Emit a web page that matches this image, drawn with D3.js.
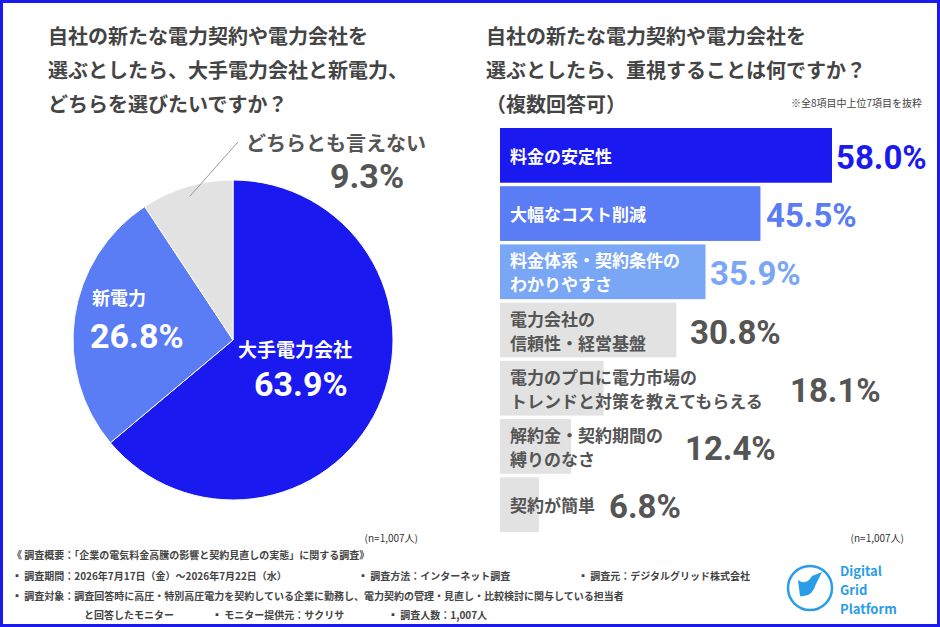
<!DOCTYPE html>
<html lang="ja">
<head>
<meta charset="UTF-8" />
<script src="https://cdn.jsdelivr.net/npm/d3@7"></script>
<style>
  body { margin: 0; background: #fff; }
  text { font-family: "Noto Sans CJK JP", "Noto Sans", sans-serif; }
  text.num { font-family: Roboto, "Liberation Sans", sans-serif; }
</style>
</head>
<body>
<script>
// pie data
const pieLabels = ['大手電力会社', '新電力', 'どちらとも言えない'];
const pieValues = [63.9, 26.8, 9.3];
const pieColors = ['#1a1af0', '#5a7cf4', '#e2e2e2'];

// bar data
const barLabels = [
  ['料金の安定性'],
  ['大幅なコスト削減'],
  ['料金体系・契約条件の', 'わかりやすさ'],
  ['電力会社の', '信頼性・経営基盤'],
  ['電力のプロに電力市場の', 'トレンドと対策を教えてもらえる'],
  ['解約金・契約期間の', '縛りのなさ'],
  ['契約が簡単']
];
const barValues = [58.0, 45.5, 35.9, 30.8, 18.1, 12.4, 6.8];
const barColors = ['#1a1af0', '#5a7cf4', '#7aa6f6', '#e2e2e2', '#e2e2e2', '#e2e2e2', '#e2e2e2'];
const valColors = ['#1a1af0', '#5a7cf4', '#7aa6f6', '#555', '#555', '#555', '#555'];

const width = 940, height = 627;
const svg = d3.select('body').append('svg').attr('width', width).attr('height', height);

svg.append('rect').attr('x', 1.5).attr('y', 1.5).attr('width', width - 3).attr('height', height - 3)
  .attr('fill', '#fff').attr('stroke', '#1a1af0').attr('stroke-width', 3);

const title = (lines, x, y) => lines.forEach((t, i) =>
  svg.append('text').text(t).attr('x', x).attr('y', y + i * 34)
    .attr('font-size', 20).attr('font-weight', 700).attr('fill', '#444'));

title(['自社の新たな電力契約や電力会社を', '選ぶとしたら、大手電力会社と新電力、', 'どちらを選びたいですか？'], 48, 44);
title(['自社の新たな電力契約や電力会社を', '選ぶとしたら、重視することは何ですか？', '（複数回答可）'], 486, 44);
svg.append('text').text('※全8項目中上位7項目を抜粋').attr('x', 922).attr('y', 107)
  .attr('text-anchor', 'end').attr('font-size', 10).attr('fill', '#444');

// pie
const cx = 233, cy = 340, r = 160;
const pie = d3.pie().sort(null)(pieValues);
const arc = d3.arc().innerRadius(0).outerRadius(r);
const gp = svg.append('g').attr('transform', `translate(${cx},${cy})`);
gp.selectAll('path').data(pie).enter().append('path')
  .attr('d', arc).attr('fill', (d, i) => pieColors[i]).attr('stroke', '#fff').attr('stroke-width', 1);

// leader line for small slice
const mid = pie[2];
const ang = (mid.startAngle + mid.endAngle) / 2;
const p0 = [Math.sin(ang) * (r - 10), -Math.cos(ang) * (r - 10)];
gp.append('polyline').attr('points', `${p0[0]},${p0[1]} ${238 - cx},${142 - cy}`)
  .attr('fill', 'none').attr('stroke', '#999').attr('stroke-width', 1);

svg.append('text').text(pieLabels[2]).attr('x', 246).attr('y', 151).attr('font-size', 20).attr('font-weight', 700).attr('fill', '#555');
svg.append('text').attr('class', 'num').text(pieValues[2].toFixed(1) + '%').attr('x', 330).attr('y', 188).attr('font-size', 34).attr('font-weight', 700).attr('fill', '#555');
svg.append('text').text(pieLabels[1]).attr('x', 92).attr('y', 305).attr('font-size', 18).attr('font-weight', 700).attr('fill', '#fff');
svg.append('text').attr('class', 'num').text(pieValues[1].toFixed(1) + '%').attr('x', 90).attr('y', 348).attr('font-size', 34).attr('font-weight', 700).attr('fill', '#fff');
svg.append('text').text(pieLabels[0]).attr('x', 238).attr('y', 357).attr('font-size', 19).attr('font-weight', 700).attr('fill', '#fff');
svg.append('text').attr('class', 'num').text(pieValues[0].toFixed(1) + '%').attr('x', 254).attr('y', 396).attr('font-size', 34).attr('font-weight', 700).attr('fill', '#fff');

// bars
const x = d3.scaleLinear().domain([0, 58]).range([500, 832]);
const y = d3.scaleBand().domain(d3.range(barValues.length)).range([128, 532]).paddingInner(0.06);
const gb = svg.append('g');
gb.selectAll('rect').data(barValues).enter().append('rect')
  .attr('x', x(0)).attr('y', (d, i) => y(i)).attr('width', d => x(d) - x(0)).attr('height', y.bandwidth())
  .attr('fill', (d, i) => barColors[i]);
barLabels.forEach((lines, i) => {
  const n = lines.length;
  lines.forEach((t, j) => {
    gb.append('text').text(t).attr('x', 510)
      .attr('y', y(i) + y.bandwidth() / 2 + (j - (n - 1) / 2) * 24)
      .attr('dominant-baseline', 'central').attr('font-size', 17).attr('font-weight', 700)
      .attr('fill', i < 3 ? '#fff' : '#555');
  });
});
const valX = [836, 766, 710, 690, 790, 685, 609];
gb.selectAll('text.v').data(barValues).enter().append('text').attr('class', 'v num')
  .text(d => d.toFixed(1) + '%')
  .attr('x', (d, i) => Math.max(x(d) + 4, valX[i]))
  .attr('y', (d, i) => y(i) + y.bandwidth() / 2 + 2)
  .attr('dominant-baseline', 'central').attr('font-size', 33).attr('font-weight', 700)
  .attr('fill', (d, i) => valColors[i]);

// notes
svg.append('text').text('(n=1,007人)').attr('x', 418).attr('y', 542).attr('font-size', 10).attr('fill', '#333').attr('text-anchor', 'end');
svg.append('text').text('(n=1,007人)').attr('x', 904).attr('y', 542).attr('font-size', 10).attr('fill', '#333').attr('text-anchor', 'end');
const notes = [
  [12, 559, '《 調査概要：「企業の電気料金高騰の影響と契約見直しの実態」に関する調査》'],
  [12, 580, '▪ 調査期間：2026年7月17日（金）～2026年7月22日（水）'],
  [358, 580, '▪ 調査方法：インターネット調査'],
  [578, 580, '▪ 調査元：デジタルグリッド株式会社'],
  [12, 600, '▪ 調査対象：調査回答時に高圧・特別高圧電力を契約している企業に勤務し、電力契約の管理・見直し・比較検討に関与している担当者'],
  [84, 619, 'と回答したモニター'],
  [212, 619, '▪ モニター提供元：サクリサ'],
  [388, 619, '▪ 調査人数：1,007人']
];
notes.forEach(([nx, ny, t]) => svg.append('text').text(t).attr('x', nx).attr('y', ny)
  .attr('font-size', 10).attr('font-weight', 700).attr('fill', '#444'));

// logo
svg.append('circle').attr('cx', 810).attr('cy', 588).attr('r', 22).attr('fill', 'none').attr('stroke', '#2b9de8').attr('stroke-width', 2.5);
svg.append('path').attr('d', 'M798,580 Q806,586 812,576 L822,572 L816,584 Q812,598 800,596 Z').attr('fill', '#2b9de8');
['Digital', 'Grid', 'Platform'].forEach((t, i) => svg.append('text').text(t)
  .attr('x', 840).attr('y', 576 + i * 19).attr('font-size', 13).attr('font-weight', 700).attr('fill', '#2b9de8'));
</script>
</body>
</html>
